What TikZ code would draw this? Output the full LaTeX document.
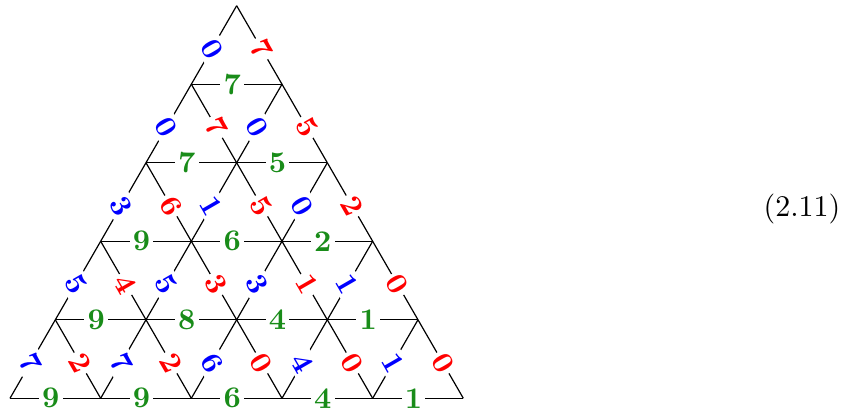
\documentclass[tikz,border=0pt]{standalone}
\usepackage{xcolor}
\definecolor{lblgreen}{rgb}{0.1,0.55,0.1}
\begin{document}
\begin{tikzpicture}[x=1pt,y=1pt,
  edge/.style={line width=0.4pt},
  lbl/.style={fill=white, inner sep=1.1pt, font=\bfseries, pos=0.45},
  glbl/.style={lbl, text=lblgreen},
  blbl/.style={lbl, text=blue, rotate=-60},
  rlbl/.style={lbl, text=red, rotate=-60}]
\useasboundingbox (0,0) rectangle (285,136.667);
\foreach \j in {0,...,5}{
  \pgfmathtruncatemacro\imax{5-\j}
  \foreach \i in {0,...,\imax}{
    \coordinate (v-\i-\j) at ({3.333+30.222*(\i+0.5*\j)},{3.9+26.173*\j});
  }
}
% horizontal edges (green)
\foreach \i/\j/\l in {0/0/9,1/0/9,2/0/6,3/0/4,4/0/1,
                      0/1/9,1/1/8,2/1/4,3/1/1,
                      0/2/9,1/2/6,2/2/2,
                      0/3/7,1/3/5,
                      0/4/7}{
  \pgfmathtruncatemacro\ii{\i+1}
  \draw[edge] (v-\i-\j) -- node[glbl] (h-\i-\j) {\l} (v-\ii-\j);
}
% rising edges (blue)
\foreach \i/\j/\l in {0/0/7,1/0/7,2/0/6,3/0/4,4/0/1,
                      0/1/5,1/1/5,2/1/3,3/1/1,
                      0/2/3,1/2/1,2/2/0,
                      0/3/0,1/3/0,
                      0/4/0}{
  \pgfmathtruncatemacro\jj{\j+1}
  \draw[edge] (v-\i-\j) -- node[blbl] (b-\i-\j) {\l} (v-\i-\jj);
}
% falling edges (red)
\foreach \i/\j/\l in {0/0/2,1/0/2,2/0/0,3/0/0,4/0/0,
                      0/1/4,1/1/3,2/1/1,3/1/0,
                      0/2/6,1/2/5,2/2/2,
                      0/3/7,1/3/5,
                      0/4/7}{
  \pgfmathtruncatemacro\ii{\i+1}
  \pgfmathtruncatemacro\jj{\j+1}
  \draw[edge] (v-\ii-\j) -- node[rlbl] (r-\i-\j) {\l} (v-\i-\jj);
}
\node[anchor=base west, inner sep=0pt] (eqno) at (254.33,64.43) {(2.11)};
\end{tikzpicture}
\end{document}
